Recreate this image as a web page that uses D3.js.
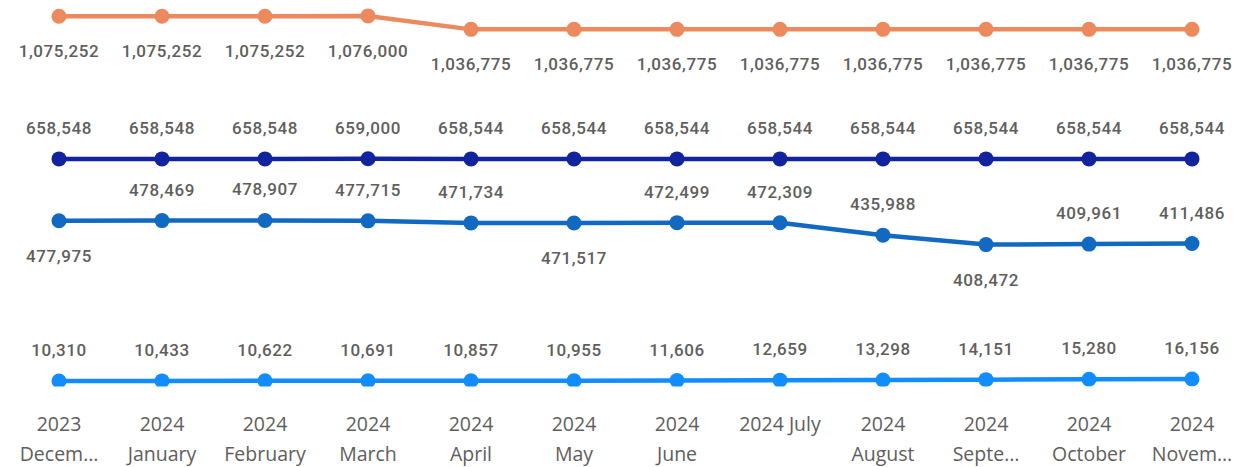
<!DOCTYPE html>
<html><head><meta charset="utf-8">
<script src="https://cdn.jsdelivr.net/npm/d3@7/dist/d3.min.js"></script>
<style>body{margin:0;background:#fff}svg{display:block}</style>
</head><body>
<svg id="c" width="1253" height="467"></svg>
<script>
const months = ["2023 December","2024 January","2024 February","2024 March","2024 April","2024 May","2024 June","2024 July","2024 August","2024 September","2024 October","2024 November"];
const tickLines = [["2023","Decem\u2026"],["2024","January"],["2024","February"],["2024","March"],["2024","April"],["2024","May"],["2024","June"],["2024 July"],["2024","August"],["2024","Septe\u2026"],["2024","October"],["2024","Novem\u2026"]];
const seriesOrange = [1075252,1075252,1075252,1076000,1036775,1036775,1036775,1036775,1036775,1036775,1036775,1036775];
const seriesNavy = [658548,658548,658548,659000,658544,658544,658544,658544,658544,658544,658544,658544];
const seriesBlue = [477975,478469,478907,477715,471734,471517,472499,472309,435988,408472,409961,411486];
const seriesLight = [10310,10433,10622,10691,10857,10955,11606,12659,13298,14151,15280,16156];
const blueLabelSide = ["below","above","above","above","above","below","above","above","above","below","above","above"];

const svg = d3.select("#c");
const x = d3.scalePoint().domain(months).range([59, 1192]);
const y = d3.scaleLinear().domain([0, 1122500]).range([384.5, 0]);

svg.append("defs").append("clipPath").attr("id","plotclip")
  .append("rect").attr("x",0).attr("y",0).attr("width",1253).attr("height",386.5);

const series = [
  {vals: seriesOrange, color:"#EC8A5E", side: () => "below"},
  {vals: seriesNavy, color:"#12239E", side: () => "above"},
  {vals: seriesBlue, color:"#1169C2", side: i => blueLabelSide[i]},
  {vals: seriesLight, color:"#118DFF", side: () => "above"}
];

const plot = svg.append("g").attr("clip-path","url(#plotclip)");
const line = d3.line().x((d,i)=>x(months[i])).y(d=>y(d));
series.forEach(s => {
  plot.append("path").datum(s.vals).attr("d", line)
    .attr("fill","none").attr("stroke",s.color).attr("stroke-width",4.5).attr("stroke-linejoin","round");
  plot.selectAll(null).data(s.vals).enter().append("circle")
    .attr("cx",(d,i)=>x(months[i])).attr("cy",d=>y(d)).attr("r",7.5).attr("fill",s.color);
});

const labels = svg.append("g");
series.forEach(s => {
  labels.selectAll(null).data(s.vals).enter().append("text")
    .attr("x",(d,i)=>x(months[i]))
    .attr("y",(d,i)=> s.side(i)==="above" ? y(d)-25 : y(d)+41)
    .attr("text-anchor","middle")
    .style("font-family","Roboto, 'DejaVu Sans Condensed', sans-serif")
    .style("font-weight","500")
    .style("font-size","17px")
    .style("letter-spacing","0.6px")
    .attr("fill","#605E5C")
    .text(d=>d3.format(",")(d));
});

// x axis
const xAxis = svg.append("g");
months.forEach((m,i) => {
  const t = xAxis.append("text").attr("x", x(m)).attr("y", 431)
    .attr("text-anchor","middle")
    .style("font-family","'Open Sans', 'Noto Sans', sans-serif")
    .style("font-size","19.5px")
    .attr("fill","#605E5C");
  tickLines[i].forEach((ln,j) => {
    t.append("tspan").attr("x", x(m)).attr("dy", j===0?0:30).text(ln);
  });
});
</script>
</body></html>
